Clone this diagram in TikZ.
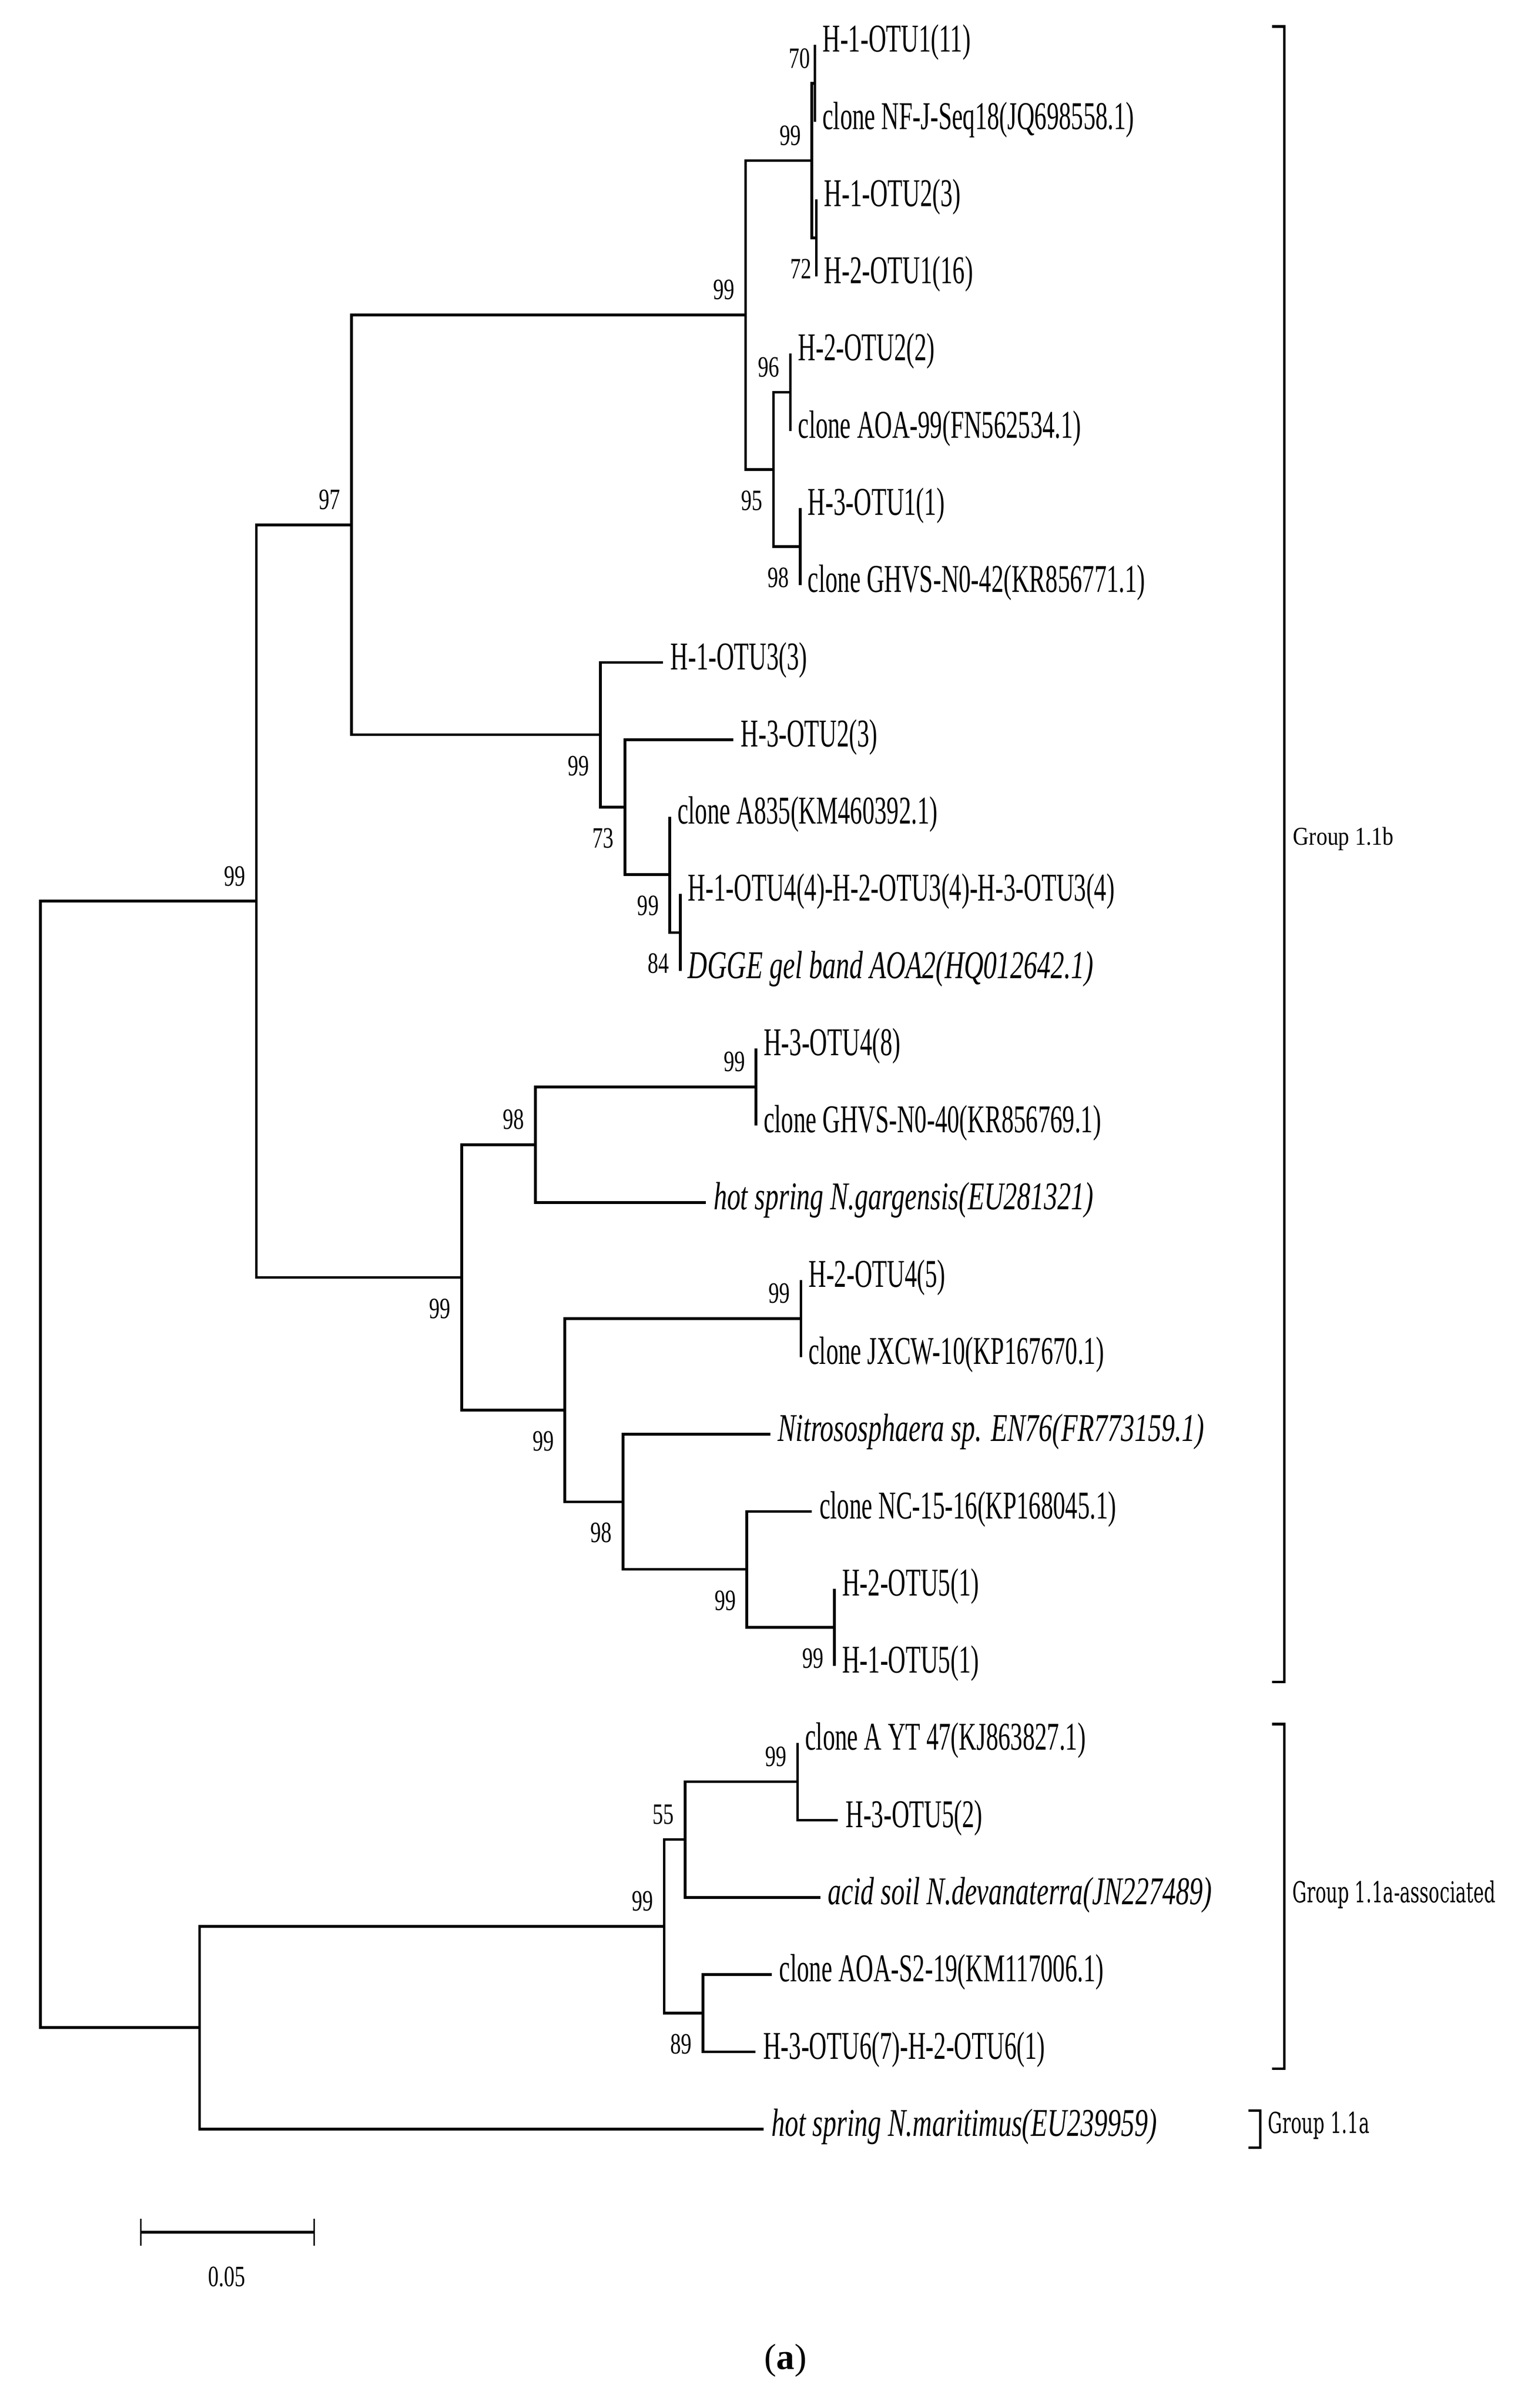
\documentclass[tikz,border=0pt]{standalone}
\usepackage{fontspec}
\setmainfont{Liberation Serif}
\newfontfamily\treefont{Liberation Serif}[FakeStretch=0.62]
\newfontfamily\treeitfont{Liberation Serif}[FakeStretch=0.685]
\newfontfamily\bootfont{Liberation Serif}[FakeStretch=0.72]
\newfontfamily\groupbfont{Liberation Serif}[FakeStretch=0.86]
\newfontfamily\groupfont{DejaVu Serif}[FakeStretch=0.62]

\tikzset{
  branch/.style={line width=0.45mm},
  leaf/.style={anchor=west, inner xsep=1.2mm, inner ysep=0pt, text height=0.66em, text depth=0pt,
    font=\treefont\fontsize{18.4}{20}\selectfont},
  leafit/.style={leaf, font=\treeitfont\itshape\fontsize{18.4}{20}\selectfont},
  boot/.style={anchor=east, inner sep=0pt, text height=0.68em, text depth=0pt,
    font=\bootfont\fontsize{13.8}{15}\selectfont},
  bu/.style={boot, xshift=-1.75mm, yshift=3.75mm},
  bd/.style={boot, xshift=-1.75mm, yshift=-5.5mm},
  bracket/.style={line width=0.4mm},
  grouplabel/.style={anchor=west, inner sep=0pt, text height=0.7em, text depth=0pt,
    font=\groupfont\fontsize{13.5}{15}\selectfont},
}

\begin{document}
\begin{tikzpicture}[x=0.25mm, y=-12.685mm]
\useasboundingbox (0,0.4186) rectangle (1000,31.615);

\coordinate (nR) at (26.6,19.39);
\coordinate (nA) at (168.6,12.094);
\coordinate (nB) at (231,7.219);
\coordinate (nP) at (490.2,4.5);
\coordinate (nQ) at (533.8,2.5);
\coordinate (nT) at (535.8,1.5);
\coordinate (nU) at (536.8,3.5);
\coordinate (nS) at (508.6,6.5);
\coordinate (nV) at (519.7,5.5);
\coordinate (nW) at (526.1,7.5);
\coordinate (nX) at (394.7,9.9375);
\coordinate (nY) at (410.9,10.875);
\coordinate (nZ) at (440.4,11.75);
\coordinate (nZb) at (447.3,12.5);
\coordinate (nC) at (303.6,16.969);
\coordinate (nE) at (352,15.25);
\coordinate (nF) at (497.1,14.5);
\coordinate (nD) at (371.4,18.6875);
\coordinate (nG) at (526.6,17.5);
\coordinate (nH) at (409.6,19.875);
\coordinate (nI) at (491.1,20.75);
\coordinate (nJ) at (548.7,21.5);
\coordinate (nL) at (131.2,26.6875);
\coordinate (nM) at (436.7,25.375);
\coordinate (nN) at (450.5,24.25);
\coordinate (nK) at (524.4,23.5);
\coordinate (nO) at (462.2,26.5);

\node[leaf] (l1) at (535.8,1) {H-1-OTU1(11)};
\node[leaf] (l2) at (535.8,2) {clone NF-J-Seq18(JQ698558.1)};
\node[leaf] (l3) at (536.8,3) {H-1-OTU2(3)};
\node[leaf] (l4) at (536.8,4) {H-2-OTU1(16)};
\node[leaf] (l5) at (519.7,5) {H-2-OTU2(2)};
\node[leaf] (l6) at (519.7,6) {clone AOA-99(FN562534.1)};
\node[leaf] (l7) at (526.1,7) {H-3-OTU1(1)};
\node[leaf] (l8) at (526.1,8) {clone GHVS-N0-42(KR856771.1)};
\node[leaf] (l9) at (435.8,9) {H-1-OTU3(3)};
\node[leaf] (l10) at (482,10) {H-3-OTU2(3)};
\node[leaf] (l11) at (440.4,11) {clone A835(KM460392.1)};
\node[leaf] (l12) at (447.3,12) {H-1-OTU4(4)-H-2-OTU3(4)-H-3-OTU3(4)};
\node[leafit] (l13) at (447.3,13) {DGGE gel band AOA2(HQ012642.1)};
\node[leaf] (l14) at (497.1,14) {H-3-OTU4(8)};
\node[leaf] (l15) at (497.1,15) {clone GHVS-N0-40(KR856769.1)};
\node[leafit] (l16) at (464.1,16) {hot spring N.gargensis(EU281321)};
\node[leaf] (l17) at (526.6,17) {H-2-OTU4(5)};
\node[leaf] (l18) at (526.6,18) {clone JXCW-10(KP167670.1)};
\node[leafit] (l19) at (506.4,19) {Nitrososphaera sp. EN76(FR773159.1)};
\node[leaf] (l20) at (533.8,20) {clone NC-15-16(KP168045.1)};
\node[leaf] (l21) at (548.7,21) {H-2-OTU5(1)};
\node[leaf] (l22) at (548.7,22) {H-1-OTU5(1)};
\node[leaf] (l23) at (524.4,23) {clone A YT 47(KJ863827.1)};
\node[leaf] (l24) at (551,24) {H-3-OTU5(2)};
\node[leafit] (l25) at (539.3,25) {acid soil N.devanaterra(JN227489)};
\node[leaf] (l26) at (507.4,26) {clone AOA-S2-19(KM117006.1)};
\node[leaf] (l27) at (496.8,27) {H-3-OTU6(7)-H-2-OTU6(1)};
\node[leafit] (l28) at (502.1,28) {hot spring N.maritimus(EU239959)};

\foreach \p/\c in {nR/nA, nR/nL, nA/nB, nA/nC, nB/nP, nB/nX, nP/nQ, nP/nS, nQ/nT, nQ/nU,
    nS/nV, nS/nW, nX/nY, nY/nZ, nZ/nZb, nC/nE, nC/nD, nE/nF, nD/nG, nD/nH, nH/nI, nI/nJ,
    nL/nM, nM/nN, nM/nO, nN/nK}
  \draw[branch] (\p) |- (\c);
\foreach \p/\c in {nT/l1, nT/l2, nU/l3, nU/l4, nV/l5, nV/l6, nW/l7, nW/l8, nX/l9, nY/l10,
    nZ/l11, nZb/l12, nZb/l13, nF/l14, nF/l15, nE/l16, nG/l17, nG/l18, nH/l19, nI/l20,
    nJ/l21, nJ/l22, nK/l23, nK/l24, nN/l25, nO/l26, nO/l27, nL/l28}
  \draw[branch] (\p) |- (\c.west);

\node[bu, xshift=1.05mm] (b70) at (nT) {70};
\node[bu] (bQ) at (nQ) {99};
\node[bd, xshift=1.05mm] (b72) at (nU) {72};
\node[bu] (bP) at (nP) {99};
\node[bu] (b96) at (nV) {96};
\node[bd] (b95) at (nS) {95};
\node[bd] (bW) at (nW) {98};
\node[bu] (b97) at (nB) {97};
\node[bu] (bA) at (nA) {99};
\node[bd] (bX) at (nX) {99};
\node[bd] (b73) at (nY) {73};
\node[bd] (bZ) at (nZ) {99};
\node[bd] (b84) at (nZb) {84};
\node[bu] (bF) at (nF) {99};
\node[bu] (bE) at (nE) {98};
\node[bd] (bC) at (nC) {99};
\node[bu] (bG) at (nG) {99};
\node[bd] (bD) at (nD) {99};
\node[bd] (bH) at (nH) {98};
\node[bd] (bI) at (nI) {99};
\node[bd] (bJ) at (nJ) {99};
\node[bu] (bK) at (nK) {99};
\node[bu] (b55) at (nN) {55};
\node[bu] (bM) at (nM) {99};
\node[bd] (b89) at (nO) {89};

\draw[bracket] (836.5,0.762) -- (844.4,0.762) -- (844.4,22.21) -- (836.5,22.21);
\draw[bracket] (836.5,22.755) -- (844.4,22.755) -- (844.4,27.22) -- (836.5,27.22);
\draw[bracket] (820.8,27.76) -- (828.8,27.76) -- (828.8,28.24) -- (820.8,28.24);
\node[grouplabel, font=\groupbfont\fontsize{12}{14}\selectfont] (g1b) at (850,11.27) {Group 1.1b};
\node[grouplabel] (g1aa) at (849.6,24.97) {Group 1.1a-associated};
\node[grouplabel] (g1a) at (833.5,27.96) {Group 1.1a};

\coordinate (sb0) at (92.5,29.336);
\coordinate (sb1) at (206.7,29.336);
\draw[line width=0.5mm] (sb0) -- (sb1);
\draw[line width=0.25mm] ([yshift=2.2mm]sb0) -- ([yshift=-2.2mm]sb0);
\draw[line width=0.25mm] ([yshift=2.2mm]sb1) -- ([yshift=-2.2mm]sb1);
\node[boot, anchor=center] (sbl) at (149,29.942) {0.05};

\node[font=\fontsize{17}{20}\selectfont] (cap) at (516.4,31.0) {(\textbf{a})};
\end{tikzpicture}
\end{document}
